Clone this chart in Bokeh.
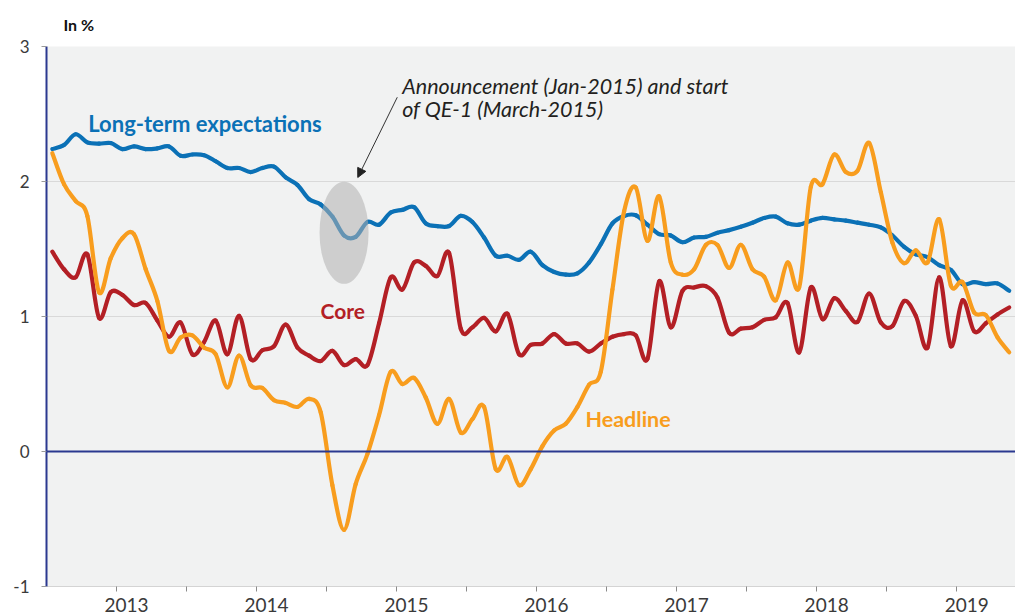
from bokeh.plotting import figure
from bokeh.models import Range1d, FixedTicker, Label, Arrow, NormalHead, Span
from bokeh.embed import file_html
from bokeh.resources import INLINE

# ---------------- data (monthly, first slot = Jan 2013) ----------------
start_year = 2013
long_term = [2.24, 2.27, 2.35, 2.29, 2.28, 2.285, 2.24, 2.26, 2.24, 2.245, 2.26, 2.19,
             2.20, 2.195, 2.15, 2.10, 2.10, 2.07, 2.10, 2.11, 2.03, 1.975, 1.87, 1.83,
             1.74, 1.60, 1.59, 1.70, 1.68, 1.77, 1.79, 1.81, 1.69, 1.67, 1.67, 1.745,
             1.70, 1.585, 1.45, 1.45, 1.42, 1.48, 1.38, 1.33, 1.31, 1.32, 1.40, 1.535,
             1.69, 1.745, 1.75, 1.68, 1.61, 1.60, 1.55, 1.585, 1.59, 1.62, 1.64, 1.665,
             1.695, 1.73, 1.74, 1.69, 1.68, 1.71, 1.73, 1.72, 1.71, 1.695, 1.68, 1.66,
             1.60, 1.515, 1.46, 1.44, 1.38, 1.345, 1.24, 1.255, 1.24, 1.245, 1.19]
headline = [2.21, 1.98, 1.855, 1.745, 1.18, 1.43, 1.58, 1.61, 1.35, 1.115, 0.745, 0.845,
            0.86, 0.77, 0.72, 0.475, 0.71, 0.49, 0.47, 0.38, 0.36, 0.33, 0.39, 0.29,
            -0.25, -0.58, -0.24, -0.02, 0.27, 0.59, 0.50, 0.545, 0.40, 0.205, 0.39, 0.14,
            0.24, 0.33, -0.13, -0.04, -0.25, -0.13, 0.04, 0.155, 0.205, 0.33, 0.495, 0.59,
            1.20, 1.78, 1.955, 1.56, 1.89, 1.40, 1.31, 1.35, 1.53, 1.53, 1.36, 1.53,
            1.35, 1.295, 1.12, 1.40, 1.215, 1.96, 1.98, 2.20, 2.07, 2.08, 2.285, 1.92,
            1.545, 1.395, 1.49, 1.40, 1.72, 1.23, 1.255, 1.03, 1.01, 0.845, 0.735]
core = [1.48, 1.35, 1.29, 1.46, 0.99, 1.18, 1.16, 1.085, 1.10, 0.97, 0.85, 0.955,
        0.72, 0.81, 0.97, 0.72, 1.005, 0.685, 0.75, 0.78, 0.94, 0.77, 0.71, 0.67,
        0.745, 0.64, 0.685, 0.64, 0.95, 1.29, 1.20, 1.40, 1.375, 1.30, 1.47, 0.91,
        0.92, 0.99, 0.89, 1.02, 0.72, 0.79, 0.80, 0.87, 0.80, 0.80, 0.74, 0.80,
        0.85, 0.87, 0.86, 0.685, 1.26, 0.92, 1.19, 1.215, 1.225, 1.14, 0.88, 0.91,
        0.92, 0.975, 0.995, 1.10, 0.734, 1.215, 0.98, 1.135, 1.04, 0.96, 1.17, 0.955,
        0.93, 1.115, 1.005, 0.77, 1.29, 0.78, 1.12, 0.89, 0.95, 1.015, 1.067]
years = [2013, 2014, 2015, 2016, 2017, 2018, 2019]
year_labels = ["2013", "2014", "2015", "2016", "2017", "2018", "2019"]
y_ticks = [-1, 0, 1, 2, 3]
y_tick_labels = ["-1", "0", "1", "2", "3"]
qe_index = 25  # Feb 2015 slot, between announcement (Jan) and start (Mar)

# ---------------- styling ----------------
BLUE = "#0b71b6"
RED = "#b31f25"
ORANGE = "#f89d1e"
NAVY = "#2b3990"
FONT = "Lato"
LABEL_SHIFT = 0.0714   # year labels sit slightly right of the mid-year tick

x = [start_year + (i + 0.5) / 12 for i in range(len(headline))]

p = figure(width=1015, height=615,
           x_range=Range1d(2013.0, 2019.92), y_range=Range1d(-1, 3),
           output_backend="svg", toolbar_location=None,
           min_border_left=46, min_border_right=0, min_border_top=46, min_border_bottom=29,
           background_fill_color="#f1f2f2", border_fill_color="white",
           outline_line_color=None)

p.title.text = "In %"
p.title.align = "left"
p.title.offset = 17
p.title.standoff = 25
p.title.text_font = FONT
p.title.text_font_style = "bold"
p.title.text_font_size = "16px"
p.title.text_color = "#111111"

p.xgrid.visible = False
p.ygrid.ticker = FixedTicker(ticks=y_ticks)
p.ygrid.grid_line_color = "#d9d9d9"
p.ygrid.grid_line_width = 1

p.yaxis.ticker = FixedTicker(ticks=y_ticks, minor_ticks=[])
p.yaxis.major_label_overrides = {t: s for t, s in zip(y_ticks, y_tick_labels)}
p.yaxis.axis_line_color = NAVY
p.yaxis.axis_line_width = 2
p.yaxis.major_tick_line_color = "#9a9a9a"
p.yaxis.major_tick_out = 5
p.yaxis.major_tick_in = 0
p.yaxis.minor_tick_line_color = None
p.yaxis.major_label_text_font = FONT
p.yaxis.major_label_text_font_size = "17px"
p.yaxis.major_label_text_color = "#3a3a3a"
p.yaxis.major_label_standoff = 12

label_pos = [yr + 0.5 + LABEL_SHIFT for yr in years]
p.xaxis.ticker = FixedTicker(ticks=label_pos,
                             minor_ticks=[yr + 0.5 for yr in years] + years[1:])
p.xaxis.major_label_overrides = {t: s for t, s in zip(label_pos, year_labels)}
p.xaxis.axis_line_color = "#d4d4d4"
p.xaxis.axis_line_width = 1
p.xaxis.major_tick_line_color = None
p.xaxis.major_tick_out = 0
p.xaxis.major_tick_in = 0
p.xaxis.minor_tick_line_color = "#8a8a8a"
p.xaxis.minor_tick_out = 5
p.xaxis.minor_tick_in = 0
p.xaxis.major_label_standoff = 6
p.xaxis.major_label_text_font = FONT
p.xaxis.major_label_text_font_size = "19px"
p.xaxis.major_label_text_color = "#3a3a3a"

p.add_layout(Span(location=0, dimension="width", line_color=NAVY, line_width=2))


def smooth_segments(xs, ys):
    xp = [xs[0]] + list(xs) + [xs[-1]]
    yp = [ys[0]] + list(ys) + [ys[-1]]
    seg = dict(x0=[], y0=[], x1=[], y1=[], cx0=[], cy0=[], cx1=[], cy1=[])
    for i in range(len(xs) - 1):
        seg["x0"].append(xp[i + 1]); seg["y0"].append(yp[i + 1])
        seg["x1"].append(xp[i + 2]); seg["y1"].append(yp[i + 2])
        seg["cx0"].append(xp[i + 1] + (xp[i + 2] - xp[i]) / 6)
        seg["cy0"].append(yp[i + 1] + (yp[i + 2] - yp[i]) / 6)
        seg["cx1"].append(xp[i + 2] - (xp[i + 3] - xp[i + 1]) / 6)
        seg["cy1"].append(yp[i + 2] - (yp[i + 3] - yp[i + 1]) / 6)
    return seg


for series, color in ((long_term, BLUE), (core, RED), (headline, ORANGE)):
    s = smooth_segments(x, series)
    p.bezier(x0=s["x0"], y0=s["y0"], x1=s["x1"], y1=s["y1"],
             cx0=s["cx0"], cy0=s["cy0"], cx1=s["cx1"], cy1=s["cy1"],
             line_color=color, line_width=4.2, line_cap="round")

# highlight of QE-1 period
p.ellipse(x=[x[qe_index]], y=[long_term[qe_index] + 0.02], width=0.35, height=0.755,
          fill_color="#b0b0b0", fill_alpha=0.55, line_color=None)

p.add_layout(Arrow(end=NormalHead(size=9, fill_color="#222222", line_color="#222222"),
                   x_start=2015.505, y_start=2.624, x_end=2015.223, y_end=2.03,
                   line_color="#333333", line_width=1))

ann_x = 2015.54
p.add_layout(Label(x=ann_x, y=2.704, text="Announcement (Jan-2015) and start",
                   text_font=FONT, text_font_style="italic", text_font_size="21.5px",
                   text_color="#231f20", text_baseline="alphabetic"))
p.add_layout(Label(x=ann_x, y=2.539, text="of QE-1 (March-2015)",
                   text_font=FONT, text_font_style="italic", text_font_size="21.5px",
                   text_color="#231f20", text_baseline="alphabetic"))

p.add_layout(Label(x=2013.298, y=2.43, text="Long-term expectations", text_font=FONT,
                   text_font_style="bold", text_font_size="22px", text_color=BLUE,
                   text_baseline="middle"))
p.add_layout(Label(x=2014.957, y=1.044, text="Core", text_font=FONT,
                   text_font_style="bold", text_font_size="21px", text_color=RED,
                   text_baseline="middle"))
p.add_layout(Label(x=2016.849, y=0.244, text="Headline", text_font=FONT,
                   text_font_style="bold", text_font_size="21.5px", text_color=ORANGE,
                   text_baseline="middle"))

open("out.html", "w").write(file_html(p, INLINE))
